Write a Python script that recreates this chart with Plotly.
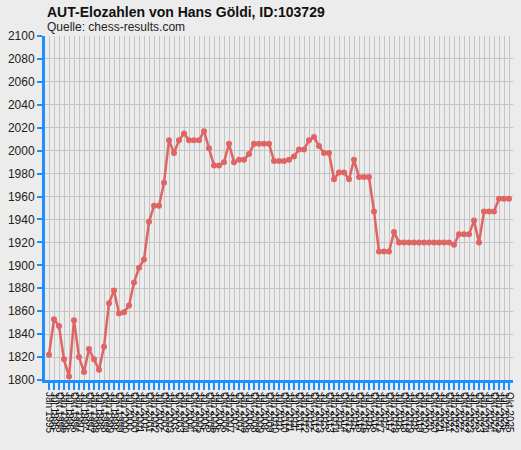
import plotly.graph_objects as go

# Elo-Listen: drei pro Jahr (Jän, Jul, Okt), 1995 - 2025
monate = ['Jän', 'Jul', 'Okt']
jahre = list(range(1995, 2026))
listen = [f'{m} {j}' for j in jahre for m in monate]

elo = [
    1822, 1853, 1847, 1818, 1803, 1852, 1820, 1807, 1827, 1818,
    1809, 1829, 1867, 1878, 1858, 1859, 1865, 1885, 1898, 1905,
    1938, 1952, 1952, 1972, 2009, 1998, 2009, 2015, 2009, 2009,
    2009, 2017, 2002, 1987, 1987, 1990, 2006, 1990, 1992, 1992,
    1997, 2006, 2006, 2006, 2006, 1991, 1991, 1991, 1992, 1995,
    2001, 2001, 2009, 2012, 2004, 1998, 1998, 1975, 1981, 1981,
    1975, 1992, 1977, 1977, 1977, 1947, 1912, 1912, 1912, 1929,
    1920, 1920, 1920, 1920, 1920, 1920, 1920, 1920, 1920, 1920,
    1920, 1918, 1927, 1927, 1927, 1939, 1920, 1947, 1947, 1947,
    1958, 1958, 1958,
]

blau = '#1e8fff'
rot = '#e06464'
schrift = 'Liberation Sans, Arial, sans-serif'

fig = go.Figure()
fig.add_trace(go.Scatter(
    x=listen, y=elo,
    mode='lines+markers',
    line=dict(color=rot, width=2.5),
    marker=dict(color=rot, size=6),
    hoverinfo='x+y'))

fig.update_layout(
    width=521, height=450,
    paper_bgcolor='#ececec',
    plot_bgcolor='#ececec',
    showlegend=False,
    margin=dict(l=45, r=8, t=36, b=70, autoexpand=False),
    font=dict(family=schrift, size=12, color='#222'),
    annotations=[
        dict(text='<b>AUT-Elozahlen von Hans Göldi, ID:103729</b>',
             xref='paper', yref='paper', x=0, y=1.07,
             xanchor='left', yanchor='middle', showarrow=False,
             font=dict(size=14, color='#111')),
        dict(text='Quelle: chess-results.com',
             xref='paper', yref='paper', x=0, y=1.026,
             xanchor='left', yanchor='middle', showarrow=False,
             font=dict(size=12, color='#222')),
    ])

fig.update_xaxes(
    type='category',
    automargin=False,
    range=[-0.8, len(listen) - 0.2],
    tickmode='linear', dtick=1,
    tickangle=90,
    tickfont=dict(size=10, color='#111'),
    showgrid=True, gridcolor='#c4c4c4', gridwidth=1,
    showline=True, linecolor=blau, linewidth=3,
    ticks='outside', tickcolor=blau, ticklen=7, tickwidth=2,
    zeroline=False)

fig.update_yaxes(
    automargin=False,
    range=[1800, 2100],
    tick0=1800, dtick=20,
    tickfont=dict(size=12, color='#222'),
    showgrid=True, gridcolor='#c4c4c4', gridwidth=1,
    showline=True, linecolor=blau, linewidth=3,
    ticks='outside', tickcolor=blau, ticklen=5, tickwidth=2,
    zeroline=False)

# Seitenrand des Browsers entfernen, damit die Grafik bei 0,0 beginnt
fig.write_html("out.html",
               config={'displayModeBar': False},
               post_script="document.body.style.margin='0';"
                           "document.body.style.background='#ececec';")
